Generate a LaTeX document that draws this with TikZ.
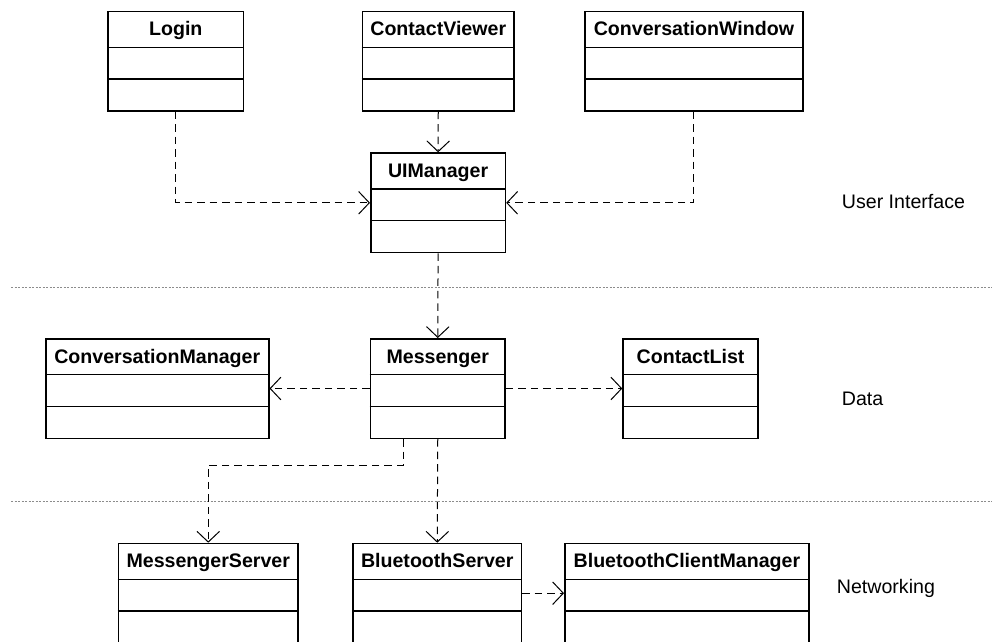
\documentclass[tikz,border=0pt]{standalone}
\usepackage{fontspec}
\setmainfont{Liberation Sans}
\usetikzlibrary{arrows.meta,calc}

\tikzset{
  classbox/.style={draw, line width=1.5pt, inner sep=0pt, minimum height=99.5pt, anchor=north west},
  classrule/.style={line width=1.5pt},
  classtitle/.style={anchor=base, inner sep=0pt, font=\fontsize{19.6}{23}\selectfont\bfseries},
  layerlabel/.style={anchor=base west, inner sep=0pt, font=\fontsize{19.6}{23}\selectfont},
  dep/.style={line width=1pt, dash pattern=on 7.5pt off 5pt,
    -{Straight Barb[length=10.7pt,width=22.6pt,line width=1pt]}},
  separator/.style={line width=1pt, dash pattern=on 2pt off 1.5pt, draw={rgb,255:red,140;green,140;blue,140}}
}

% UML class box: name, left x, top y, width, class name
\newcommand\umlclass[5]{%
  \node[classbox, minimum width=#4pt] (#1) at (#2,#3) {};
  \node[classtitle] (#1-title) at ($(#1.north)+(0,25)$) {#5};
  \draw[classrule] ($(#1.north west)+(0,36.6)$) -- ($(#1.north east)+(0,36.6)$);
  \draw[classrule] ($(#1.north west)+(0,68.3)$) -- ($(#1.north east)+(0,68.3)$);
}

\begin{document}
\begin{tikzpicture}[x=1pt, y=-1pt]
  \useasboundingbox (0,0) rectangle (992,641);
  \clip (0,0) rectangle (992,641);

  % layer separators
  \draw[separator] (11,287.3) -- (992,287.3);
  \draw[separator] (11,501) -- (992,501);

  % user interface layer
  \umlclass{login}{107.3}{10.7}{135.4}{Login}
  \umlclass{contactviewer}{361.7}{10.7}{151.6}{ContactViewer}
  \umlclass{convwindow}{584}{10.7}{218.3}{ConversationWindow}
  \umlclass{uimanager}{370}{152.3}{134.7}{UIManager}

  % data layer
  \umlclass{convmanager}{45}{338}{223}{ConversationManager}
  \umlclass{messenger}{369.7}{338}{134.6}{Messenger}
  \umlclass{contactlist}{622.3}{338}{135}{ContactList}

  % networking layer
  \umlclass{msgserver}{117.7}{542.7}{179.6}{MessengerServer}
  \umlclass{btserver}{352.3}{542.7}{168.4}{BluetoothServer}
  \umlclass{btclient}{564}{542.7}{244.3}{BluetoothClientManager}

  % layer names
  \node[layerlabel] (lbl-ui) at (841.7,208.3) {User Interface};
  \node[layerlabel] (lbl-data) at (841.7,405) {Data};
  \node[layerlabel] (lbl-net) at (836.7,593.5) {Networking};

  % dependencies
  \draw[dep] (login.south) |- (uimanager.west);
  \draw[dep] (contactviewer.south) -- (uimanager.north);
  \draw[dep] (convwindow.south) |- (uimanager.east);
  \draw[dep] (uimanager.south) -- (messenger.north);
  \draw[dep] (messenger.west) -- (convmanager.east);
  \draw[dep] (messenger.east) -- (contactlist.west);
  \coordinate (msg-out) at ($(messenger.south west)+(33.3,0)$);
  \draw[dep] (msg-out) -- ++(0,26.3) -| (msgserver.north);
  \draw[dep] (messenger.south) -- (btserver.north);
  \draw[dep] (btserver.east) -- (btclient.west);
\end{tikzpicture}
\end{document}
